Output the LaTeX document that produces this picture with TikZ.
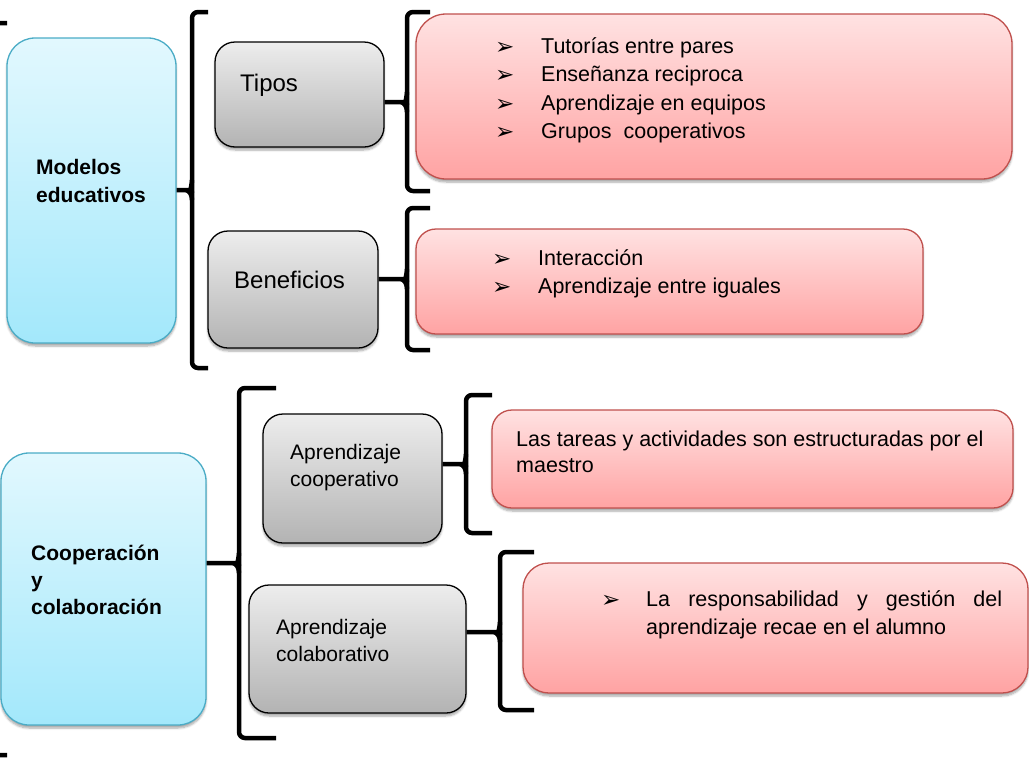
\documentclass[tikz,border=0pt]{standalone}
\usepackage{fontspec}
\setmainfont{Liberation Sans}
\newfontfamily\dingfont{DejaVu Sans}
\usetikzlibrary{calc,shapes,positioning,shadows.blur}

\definecolor{bluetop}{HTML}{E2F8FE}
\definecolor{bluebot}{HTML}{A3E8FB}
\definecolor{blueline}{HTML}{4BACC6}
\definecolor{graytop}{HTML}{EDEDED}
\definecolor{graybot}{HTML}{B3B3B3}
\definecolor{redtop}{HTML}{FFE2E2}
\definecolor{redbot}{HTML}{FFA3A3}
\definecolor{redline}{HTML}{C0504D}
\newcommand{\blt}{\makebox[46pt][l]{\raisebox{-1pt}{\dingfont\fontsize{23}{23}\selectfont ➢}}}

\begin{document}
\begin{tikzpicture}[x=1pt,y=1pt]
        \tikzstyle{box} = [draw, rounded corners=20pt, line width=1.3pt,
          blur shadow={shadow xshift=0pt, shadow yshift=-3pt, shadow blur steps=6, shadow opacity=35}]
        \tikzstyle{mainbox} = [box, draw=blueline, top color=bluetop, bottom color=bluebot, rounded corners=28pt]
        \tikzstyle{subbox} = [box, draw=black, top color=graytop, bottom color=graybot]
        \tikzstyle{listbox} = [box, draw=redline, top color=redtop, bottom color=redbot]
        \tikzstyle{txt} = [anchor=west, align=left, inner sep=0pt, font=\fontsize{21.5}{28.5}\selectfont]
        \tikzstyle{brk} = [line width=4.5pt, rounded corners=6pt]
        \useasboundingbox (0,0) rectangle (1029,-761);

        % first block
        \node[mainbox, minimum width=169pt, minimum height=305pt] (modelos) at (91.5,-190.5) {};
        \node[subbox, minimum width=169pt, minimum height=105pt] (tipos) at (299.5,-94.5) {};
        \node[subbox, minimum width=170pt, minimum height=117pt] (benef) at (293,-289.5) {};
        \node[listbox, minimum width=596pt, minimum height=165pt, rounded corners=30pt] (tiposlist) at (714,-96.5) {};
        \node[listbox, minimum width=507pt, minimum height=105pt] (benlist) at (669.5,-281.5) {};

        % second block
        \node[mainbox, minimum width=205pt, minimum height=272pt] (coopcol) at (103.5,-589) {};
        \node[subbox, minimum width=179pt, minimum height=129pt] (apcoop) at (352.5,-478.5) {};
        \node[subbox, minimum width=217pt, minimum height=128pt] (apcolab) at (357.5,-649) {};
        \node[listbox, minimum width=521pt, minimum height=98pt] (cooplist) at (752.5,-459) {};
        \node[listbox, minimum width=505pt, minimum height=130pt, rounded corners=26pt] (colablist) at (775.5,-628) {};

        % texts
        \node[txt, font=\bfseries\fontsize{21}{28}\selectfont] (modelostxt) at (36,-181) {Modelos\\educativos};
        \node[txt, font=\bfseries\fontsize{21}{27}\selectfont] (coopcoltxt) at (31,-580) {Cooperación\\y\\colaboración};
        \node[txt, font=\fontsize{24}{28}\selectfont] (tipostxt) at (240,-85) {Tipos};
        \node[txt, font=\fontsize{24}{28}\selectfont] (beneftxt) at (234,-280) {Beneficios};
        \node[txt, font=\fontsize{21}{27}\selectfont] (apcooptxt) at (290,-467.5) {Aprendizaje\\cooperativo};
        \node[txt, font=\fontsize{21}{27}\selectfont] (apcolabtxt) at (276,-640) {Aprendizaje\\colaborativo};
        \node[txt] (tiposlisttxt) at (495,-90.5) {\blt Tutorías entre pares\\ \blt Enseñanza reciproca\\
          \blt Aprendizaje en equipos\\ \blt Grupos\ \ cooperativos};
        \node[txt, font=\fontsize{21.5}{28}\selectfont] (benlisttxt) at (492,-274) {\blt Interacción\\ \blt Aprendizaje entre iguales};
        \node[txt, font=\fontsize{21.5}{26}\selectfont] (cooplisttxt) at (516,-451.5) {Las tareas y actividades son estructuradas por el\\maestro};
        \node[txt, font=\fontsize{21.5}{28}\selectfont] (colablisttxt) at (601,-614.5)
          {\makebox[45pt][l]{\raisebox{-1pt}{\dingfont\fontsize{23}{23}\selectfont ➢}}\makebox[356pt][s]{La responsabilidad y gestión del}\\
           \makebox[45pt]{}aprendizaje recae en el alumno};

        % brackets
        \foreach \bx/\btop/\bbot/\bs in {192/12/368/16, 407/12/191/23, 407/208/350/23,
            239/388/738/37, 466/395/533/26, 500/552/710/34, -9/23/755/16}
          \draw[brk] (\bx+\bs,-\btop) -- (\bx,-\btop) -- (\bx,-\bbot) -- (\bx+\bs,-\bbot);

        \coordinate (t1) at (192,-190);
        \coordinate (t2) at (407,-102);
        \coordinate (t3) at (407,-279);
        \coordinate (t4) at (239,-563);
        \coordinate (t5) at (466,-464);
        \coordinate (t6) at (500,-632);

        \foreach \src/\tip in {modelos/t1, tipos/t2, benef/t3, coopcol/t4, apcoop/t5, apcolab/t6}
          \draw[brk] (\src.east |- \tip) -- ([xshift=-7pt]\tip) to[out=0,in=-90] ([yshift=10pt]\tip)
            ([xshift=-7pt]\tip) to[out=0,in=90] ([yshift=-10pt]\tip);
      \end{tikzpicture}
\end{document}
